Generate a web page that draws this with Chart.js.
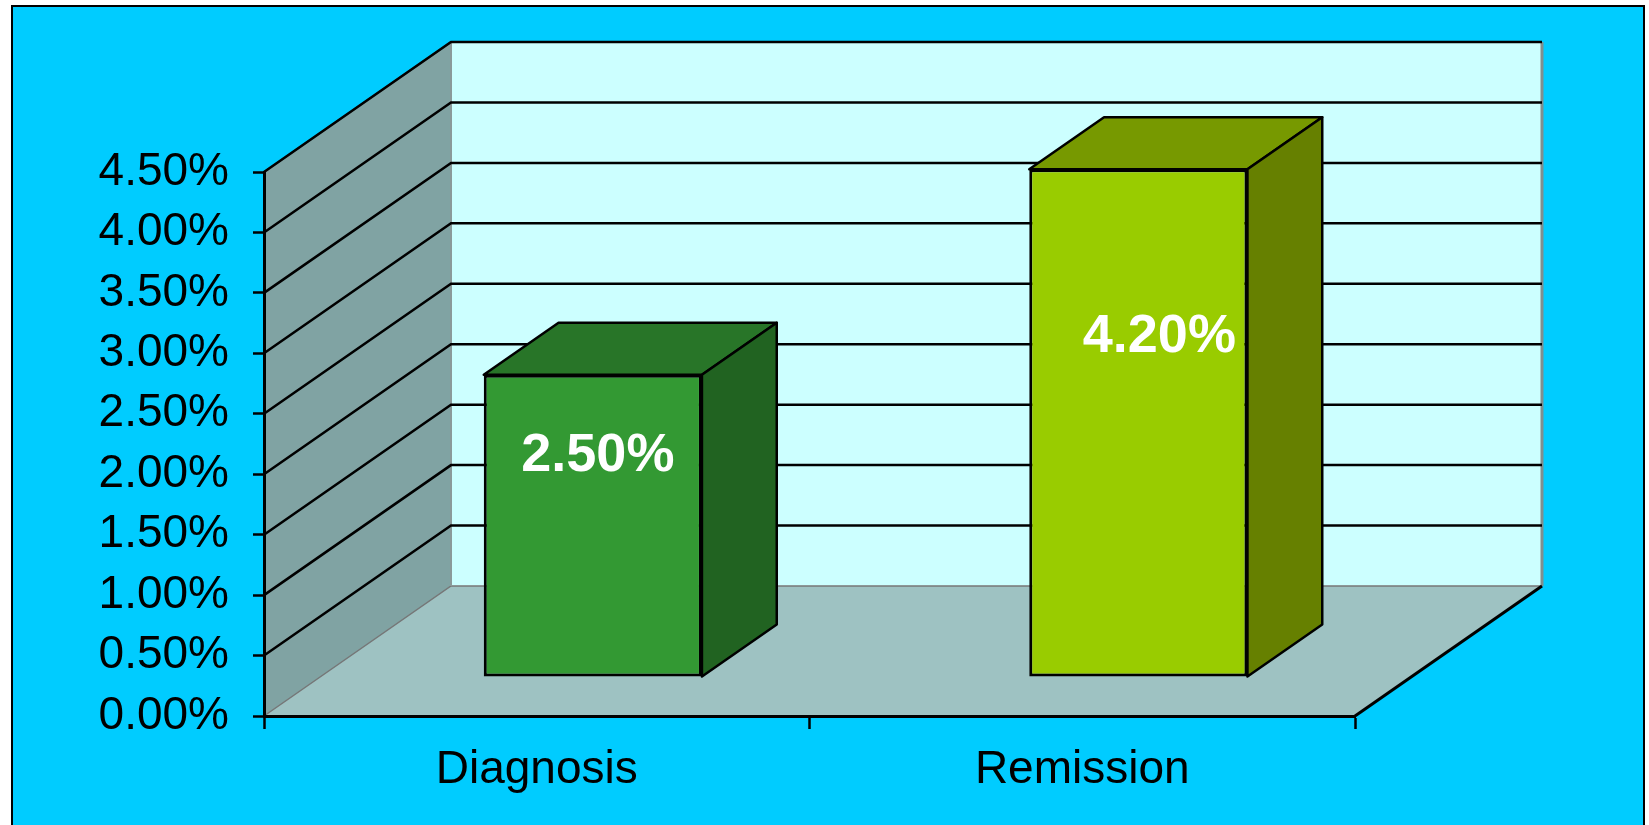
<!DOCTYPE html>
<html>
<head>
<meta charset="utf-8">
<script src="https://cdn.jsdelivr.net/npm/chart.js@4.4.1/dist/chart.umd.min.js"></script>
<style>
  html, body { margin: 0; padding: 0; background: #fff; overflow: hidden; }
  #wrap { width: 1649px; height: 825px; }
</style>
</head>
<body>
<div id="wrap"><canvas id="chart"></canvas></div>
<script>
const categories = ["Diagnosis", "Remission"];
const rates = [2.5, 4.2];
const yTicks = [0, 0.5, 1, 1.5, 2, 2.5, 3, 3.5, 4, 4.5];

// bar faces: front, top, side
const frontColors = ["#339933", "#99CC00"];
const topColors = ["#287528", "#779900"];
const sideColors = ["#216321", "#668000"];
// where the value label sits on each bar face (share of bar height from top, px to the right)
const labelDrop = [0.27, 0.33];
const labelShift = [5, 21];

// depth of the 3d box, and where the bars sit inside it
const DX = 187;
const DY = -130;
const BAR_FRONT = 0.3;
const BAR_DEPTH = 0.4;

const FONT = "'Liberation Sans', Arial, sans-serif";

function poly(ctx, pts, fill) {
  ctx.beginPath();
  ctx.moveTo(pts[0][0], pts[0][1]);
  for (let i = 1; i < pts.length; i++) ctx.lineTo(pts[i][0], pts[i][1]);
  ctx.closePath();
  ctx.fillStyle = fill;
  ctx.fill();
}

function line(ctx, pts, color, width) {
  ctx.beginPath();
  ctx.moveTo(pts[0][0], pts[0][1]);
  for (let i = 1; i < pts.length; i++) ctx.lineTo(pts[i][0], pts[i][1]);
  ctx.strokeStyle = color;
  ctx.lineWidth = width;
  ctx.stroke();
}

const scene3d = {
  id: "scene3d",
  beforeDraw(chart) {
    const ctx = chart.ctx;
    const { left, right, top, bottom } = chart.chartArea;
    const y = chart.scales.y;
    ctx.save();
    ctx.fillStyle = "#fff";
    ctx.fillRect(0, 0, chart.width, chart.height);
    ctx.fillStyle = "#00CCFF";
    ctx.fillRect(12, 6, 1632, 840);
    ctx.strokeStyle = "#000";
    ctx.lineWidth = 2;
    ctx.strokeRect(12, 6, 1632, 840);

    // floor, side wall, back wall
    poly(ctx, [[left, bottom], [left + DX, bottom + DY], [right + DX, bottom + DY], [right, bottom]], "#9EC2C2");
    poly(ctx, [[left, top], [left + DX, top + DY], [left + DX, bottom + DY], [left, bottom]], "#80A3A3");
    poly(ctx, [[left + DX, top + DY], [right + DX, top + DY], [right + DX, bottom + DY], [left + DX, bottom + DY]], "#CCFFFF");

    line(ctx, [[left, top], [left + DX, top + DY]], "#6a6a6a", 2);
    line(ctx, [[left, bottom], [left + DX, bottom + DY], [right + DX, bottom + DY]], "#777", 1.5);
    line(ctx, [[left + DX, top + DY], [left + DX, bottom + DY]], "#8a9a9a", 2);
    line(ctx, [[right + DX, top + DY], [right + DX, bottom + DY]], "#7f8f8f", 3);
    line(ctx, [[right, bottom], [right + DX, bottom + DY]], "#000", 3);

    y.ticks.forEach((t) => {
      if (t.value === 0) return;
      const py = y.getPixelForValue(t.value);
      line(ctx, [[left, py], [left + DX, py + DY], [right + DX, py + DY]], "#000", 2.5);
    });
    ctx.restore();
  },
  beforeDatasetDraw(chart, args) {
    const ctx = chart.ctx;
    ctx.save();
    ctx.translate(DX * BAR_FRONT, DY * BAR_FRONT);
    const bx = DX * BAR_DEPTH;
    const by = DY * BAR_DEPTH;
    args.meta.data.forEach((el, i) => {
      const x0 = el.x - el.width / 2;
      const x1 = el.x + el.width / 2;
      const yt = el.y;
      const yb = el.base;
      ctx.lineJoin = "round";
      poly(ctx, [[x0, yt], [x0 + bx, yt + by], [x1 + bx, yt + by], [x1, yt]], topColors[i]);
      ctx.strokeStyle = "#000";
      ctx.lineWidth = 2.5;
      ctx.stroke();
      poly(ctx, [[x1, yt], [x1 + bx, yt + by], [x1 + bx, yb + by], [x1, yb]], sideColors[i]);
      ctx.stroke();
    });
  },
  afterDatasetDraw(chart, args) {
    const ctx = chart.ctx;
    ctx.font = "bold 54px " + FONT;
    ctx.fillStyle = "#fff";
    ctx.textAlign = "center";
    ctx.textBaseline = "middle";
    args.meta.data.forEach((el, i) => {
      const ly = el.y + (el.base - el.y) * labelDrop[i];
      ctx.fillText(rates[i].toFixed(2) + "%", el.x + labelShift[i], ly);
    });
    ctx.restore();
  },
};

new Chart(document.getElementById("chart"), {
  type: "bar",
  data: {
    labels: categories,
    datasets: [
      {
        data: rates,
        backgroundColor: frontColors,
        borderColor: "#000",
        borderWidth: 3,
        borderSkipped: false,
        barPercentage: 0.4,
        categoryPercentage: 1,
        clip: false,
      },
    ],
  },
  options: {
    responsive: true,
    maintainAspectRatio: false,
    animation: false,
    layout: { padding: { left: 0, right: 294, top: 172, bottom: 0 } },
    plugins: {
      legend: { display: false },
      tooltip: { enabled: false },
    },
    scales: {
      y: {
        min: 0,
        max: 4.5,
        afterBuildTicks: (s) => {
          s.ticks = yTicks.map((v) => ({ value: v }));
        },
        afterFit: (s) => {
          s.width = 264;
        },
        ticks: {
          padding: 24,
          color: "#000",
          font: { family: FONT, size: 46 },
          callback: (v) => Number(v).toFixed(2) + "%",
        },
        grid: {
          drawOnChartArea: false,
          tickLength: 11,
          tickColor: "#000",
          tickWidth: 2.5,
        },
        border: { color: "#000", width: 3 },
      },
      x: {
        afterFit: (s) => {
          s.height = 109;
        },
        ticks: {
          padding: 14,
          color: "#000",
          font: { family: FONT, size: 46 },
        },
        grid: {
          offset: true,
          drawOnChartArea: false,
          tickLength: 13,
          tickColor: "#000",
          tickWidth: 2.5,
        },
        border: { color: "#000", width: 3 },
      },
    },
  },
  plugins: [scene3d],
});
</script>
</body>
</html>
